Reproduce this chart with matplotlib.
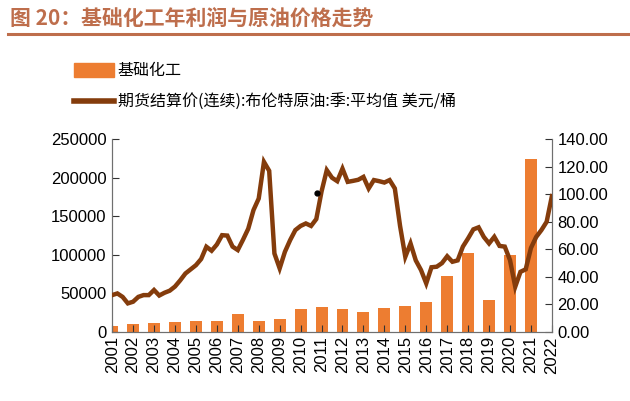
import matplotlib
matplotlib.use("Agg")
import matplotlib.pyplot as plt
import numpy as np
from matplotlib.lines import Line2D
from matplotlib.patches import Patch

plt.rcParams['font.family'] = ['Liberation Sans', 'Noto Sans CJK SC', 'DejaVu Sans']

# 年份（柱状图：基础化工年利润）
years = [str(y) for y in range(2001, 2023)]
profit = [7500, 11000, 12000, 13300, 14600, 14200, 23300, 14000, 16400, 29400,
          32800, 29400, 26300, 30700, 34100, 38400, 72900, 101900, 41000, 99300,
          224000, 0]

# 布伦特原油季度均价（2001Q1 - 2022Q1）
brent = [26.8, 28.0, 25.5, 20.8,
         22.0, 25.5, 26.8, 26.8,
         30.5, 26.5, 28.5, 30.0,
         33.0, 37.5, 42.5, 45.5,
         48.5, 53.0, 61.9, 59.0,
         63.5, 70.3, 70.0, 62.0,
         59.5, 67.0, 75.0, 88.5,
         96.9, 123.5, 117.0, 57.0,
         46.2, 58.2, 66.7, 74.0,
         77.0, 78.8, 77.0, 82.0,
         102.0, 117.5, 112.0, 109.5,
         118.6, 109.0, 109.7, 110.5,
         112.6, 104.2, 110.3, 109.5,
         108.5, 110.3, 104.2, 77.0,
         54.6, 64.3, 52.0, 45.0,
         35.3, 47.0, 47.4, 50.0,
         55.0, 51.0, 52.0, 62.0,
         68.0, 74.5, 76.0, 69.0,
         64.3, 69.1, 62.5, 62.0,
         52.2, 32.9, 43.7, 45.5,
         61.0, 69.0, 74.0, 80.0,
         98.6]
dot_x, dot_y = 9.79, 100.8

bar_color = '#ED7D31'
line_color = '#843C0C'
title_color = '#BE6E4C'
spine_color = '#6F6F6F'

fig = plt.figure(figsize=(6.3, 4.01), dpi=100)
ax = fig.add_axes([0.178, 0.172, 0.698, 0.481])
ax2 = ax.twinx()

x_bar = np.arange(len(years))
ax.bar(x_bar, profit, width=0.57, color=bar_color, zorder=1)
ax.set_xlim(0, 21)
ax.set_ylim(0, 250000)
ax.set_yticks(range(0, 250001, 50000))
ax.set_yticklabels([str(v) for v in range(0, 250001, 50000)], fontsize=12)
ax.set_xticks(x_bar)
ax.set_xticklabels(years, rotation=90, fontsize=12)

x_line = np.arange(len(brent)) * 0.25
ax2.plot(x_line, brent, color=line_color, lw=3.2, solid_joinstyle='miter', zorder=3)
ax2.plot([dot_x], [dot_y], 'o', color='black', ms=3.5, zorder=4)
ax2.set_ylim(0, 140)
ax2.set_yticks(range(0, 141, 20))
ax2.set_yticklabels([f"{v:.2f}" for v in range(0, 141, 20)], fontsize=12)

for a in (ax, ax2):
    a.spines['top'].set_visible(False)
    for s in ('left', 'right', 'bottom'):
        a.spines[s].set_color(spine_color)
    a.tick_params(direction='in', length=5, color='#333333', pad=4)
ax.tick_params(axis='x', pad=3)

# 标题与下划线
fig.text(10 / 630, 1 - 18 / 401, '图 20：基础化工年利润与原油价格走势', fontsize=15,
         fontweight='bold', color=title_color, va='center', ha='left',
         family=['Noto Sans CJK SC', 'DejaVu Sans'])
fig.add_artist(Line2D([8 / 630, 1.0], [1 - 34 / 401, 1 - 34 / 401],
                      color=title_color, lw=2.2, transform=fig.transFigure))

handles = [Patch(color=bar_color),
           Line2D([0], [0], color=line_color, lw=4)]
labels = ['基础化工', '期货结算价(连续):布伦特原油:季:平均值 美元/桶']
fig.legend(handles, labels, loc='upper left', bbox_to_anchor=(60 / 630, 1 - 48 / 401),
           frameon=False, handlelength=2.45, handleheight=1.0,
           handletextpad=0.25, labelspacing=0.9,
           prop={'family': ['Noto Sans CJK SC', 'DejaVu Sans'], 'size': 11.5})

fig.savefig('out.png', dpi=100)
